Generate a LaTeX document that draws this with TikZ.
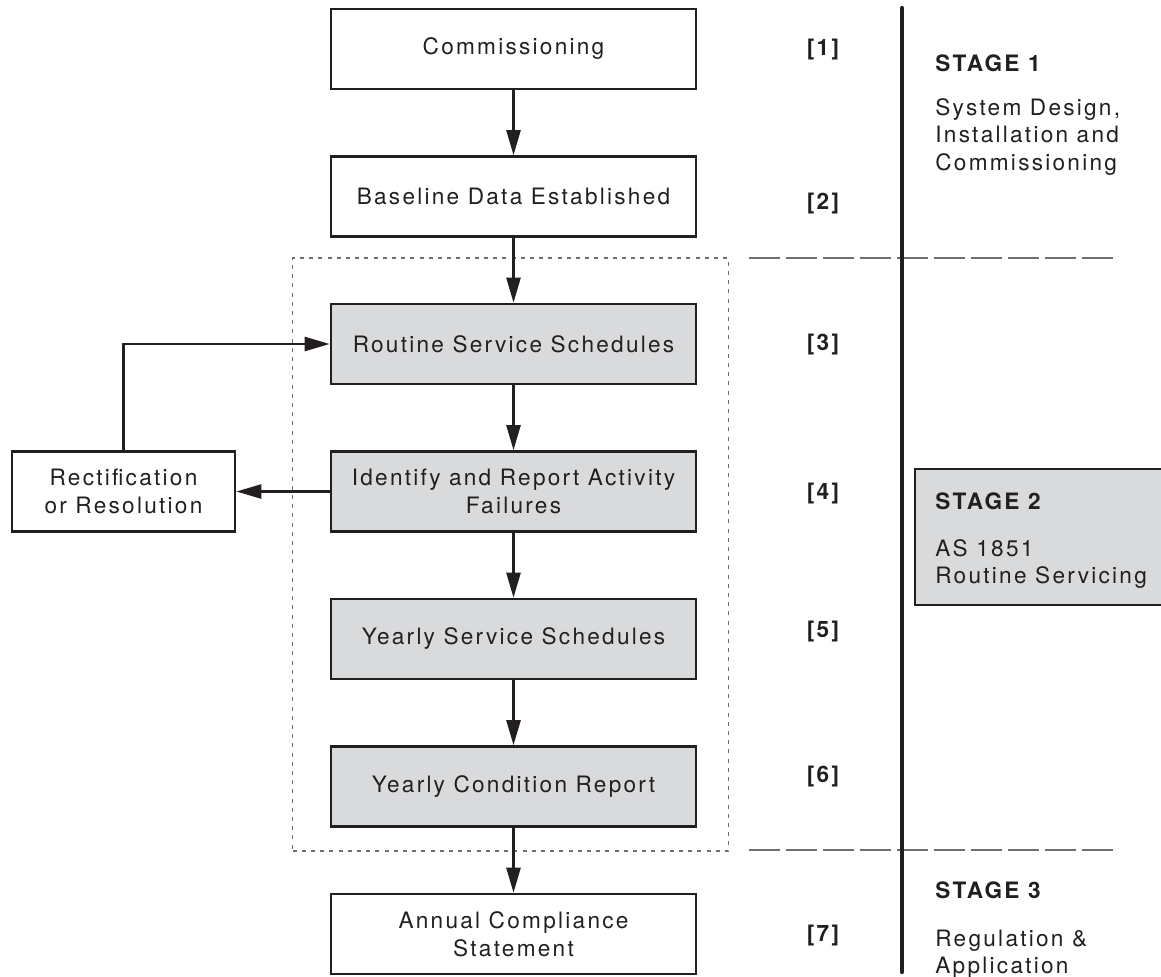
\documentclass[tikz,border=0pt]{standalone}
\usepackage{fontspec}
\setmainfont{TeX Gyre Heros}[LetterSpace=10]
\usetikzlibrary{arrows.meta}
\definecolor{ink}{HTML}{231F20}
\definecolor{boxgray}{HTML}{D9DADC}
\definecolor{dashgray}{HTML}{6F6F70}
\begin{document}
\begin{tikzpicture}[x=0.5pt,y=-0.5pt,
  font=\fontsize{11.3}{13.75}\selectfont,
  box/.style={draw=ink,line width=1.3pt,minimum width=182.5pt,minimum height=40pt,inner sep=0pt,align=center,text=ink},
  graybox/.style={box,fill=boxgray},
  arr/.style={draw=ink,line width=1.2pt,-{Triangle[length=12.5pt,width=7pt]}},
  num/.style={font=\fontsize{11.3}{13}\selectfont\bfseries,text=ink,inner sep=0pt},
  stagehead/.style={anchor=base west,font=\fontsize{11.3}{13}\selectfont\bfseries,text=ink,inner sep=0pt},
  stagetxt/.style={anchor=base west,text=ink,inner sep=0pt},
  stagedash/.style={draw=dashgray,line width=1pt,dash pattern=on 15.5pt off 3pt},
]
\useasboundingbox (0,0) rectangle (1161,976);
\clip (0,0) rectangle (1161,976);

% dashed group frame
\node[draw=dashgray,line width=0.7pt,dash pattern=on 2pt off 2.6pt,minimum width=218pt,minimum height=296.5pt,inner sep=0pt] (grp) at (510.5,554.5) {};

% stage separators
\coordinate (d1a) at (749,258);
\coordinate (d1b) at (1114,258);
\coordinate (d2a) at (749,850);
\coordinate (d2b) at (1114,850);
\draw[stagedash] (d1a) -- (d1b);
\draw[stagedash] (d2a) -- (d2b);
\coordinate (vt) at (902,8);
\coordinate (vb) at (902,972);
\draw[draw=ink,line width=2.1pt,line cap=round] (vt) -- (vb);

% stage 2 box
\node[draw=ink,fill=boxgray,line width=1pt,minimum width=130pt,minimum height=68pt,inner sep=0pt] (s2box) at (1045,537) {};

% main boxes
\node[box] (comm) at (513.5,49) {Commissioning};
\node[box] (base) at (513.5,196.5) {Baseline Data Established};
\node[graybox] (rout) at (513.5,344) {Routine Service Schedules};
\node[graybox] (ident) at (513.5,491.5) {Identify and Report Activity\\Failures};
\node[graybox] (yss) at (513.5,639) {Yearly Service Schedules};
\node[graybox] (ycr) at (513.5,786.5) {Yearly Condition Report};
\node[box] (acs) at (513.5,934) {Annual Compliance\\Statement};
\node[box,minimum width=111.5pt] (rect) at (123.5,491.5) {Rectification\\or Resolution};

% connectors
\draw[arr] (comm.south) -- (base.north);
\draw[arr] (base.south) -- (rout.north);
\draw[arr] (rout.south) -- (ident.north);
\draw[arr] (ident.south) -- (yss.north);
\draw[arr] (yss.south) -- (ycr.north);
\draw[arr] (ycr.south) -- (acs.north);
\draw[arr] (ident.west) -- (rect.east);
\draw[arr] (rect.north) |- (rout.west);

% step numbers
\node[num] (n1) at (823,50) {[1]};
\node[num] (n2) at (823,204) {[2]};
\node[num] (n3) at (823,345) {[3]};
\node[num] (n4) at (823,494) {[4]};
\node[num] (n5) at (823,632) {[5]};
\node[num] (n6) at (823,777) {[6]};
\node[num] (n7) at (823,936) {[7]};

% stage texts
\node[stagehead] (s1h) at (935,71) {STAGE 1};
\node[stagetxt] (s1a) at (935,115) {System Design,};
\node[stagetxt] (s1b) at (935,142) {Installation and};
\node[stagetxt] (s1c) at (935,170) {Commissioning};
\node[stagehead] (s2h) at (935,509) {STAGE 2};
\node[stagetxt] (s2a) at (935,556) {AS 1851};
\node[stagetxt] (s2b) at (935,583) {Routine Servicing};
\node[stagehead] (s3h) at (935,898) {STAGE 3};
\node[stagetxt] (s3a) at (935,946) {Regulation \&};
\node[stagetxt] (s3b) at (935,973) {Application};
\end{tikzpicture}
\end{document}
